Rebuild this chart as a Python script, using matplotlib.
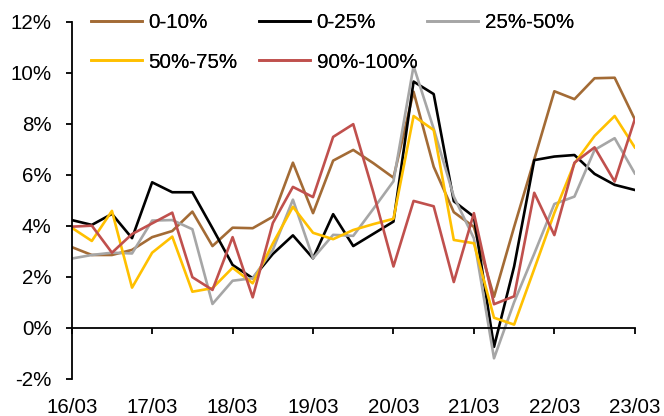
import matplotlib
matplotlib.use("Agg")
import matplotlib.pyplot as plt
import numpy as np

plt.rcParams["font.family"] = ["Liberation Sans", "DejaVu Sans"]

# quarterly observations, 16/03 .. 23/03 (29 quarters)
year_labels = ["16/03", "17/03", "18/03", "19/03", "20/03", "21/03", "22/03", "23/03"]

q0_10 = [3.16, 2.85, 2.85, 3.05, 3.55, 3.79, 4.55, 3.20, 3.92, 3.90,
         4.35, 6.47, 4.49, 6.55, 6.97, 6.45, 5.88, 9.25, 6.31, 4.53,
         3.95, 1.21, 3.95, 6.60, 9.27, 8.96, 9.78, 9.80, 8.17]
q0_25 = [4.22, 4.03, 4.46, 3.51, 5.70, 5.31, 5.31, 3.90, 2.46, 1.94,
         2.89, 3.62, 2.72, 4.45, 3.20, 3.68, 4.16, 9.65, 9.16, 4.96,
         4.35, -0.75, 2.40, 6.57, 6.71, 6.77, 6.03, 5.60, 5.40]
q25_50 = [2.71, 2.85, 2.94, 2.91, 4.20, 4.22, 3.86, 0.93, 1.84, 1.94,
          3.05, 5.02, 2.72, 3.64, 3.60, 4.66, 5.74, 10.26, 7.80, 5.14,
          3.50, -1.20, 1.00, 2.90, 4.85, 5.14, 6.97, 7.43, 6.05]
q50_75 = [3.92, 3.40, 4.58, 1.57, 2.94, 3.57, 1.41, 1.55, 2.35, 1.74,
          3.30, 4.74, 3.72, 3.47, 3.83, 4.06, 4.27, 8.30, 7.75, 3.44,
          3.31, 0.39, 0.12, 2.30, 4.50, 6.44, 7.52, 8.30, 7.07]
q90_100 = [3.96, 4.00, 2.94, 3.67, 4.09, 4.51, 1.98, 1.48, 3.55, 1.19,
           4.10, 5.52, 5.12, 7.48, 7.98, 5.30, 2.40, 4.97, 4.76, 1.79,
           4.49, 0.92, 1.23, 5.29, 3.63, 6.47, 7.07, 5.73, 8.17]

x = np.arange(len(q0_10))

fig = plt.figure(figsize=(6.64, 4.16), dpi=100)
ax = fig.add_axes([0.108, 0.0897, 0.848, 0.8583])

lw = 1.9
h_b, = ax.plot(x, q0_10, color="#A36B35", lw=lw, label="0-10%")
h_k, = ax.plot(x, q0_25, color="#000000", lw=lw, label="0-25%")
h_g, = ax.plot(x, q25_50, color="#A6A6A6", lw=lw, label="25%-50%")
h_y, = ax.plot(x, q50_75, color="#FFC000", lw=lw, label="50%-75%")
h_r, = ax.plot(x, q90_100, color="#C0504D", lw=lw, label="90%-100%")

ax.set_xlim(0, 28)
ax.set_ylim(-2, 12)
ax.set_yticks(np.arange(-2, 13, 2))
ax.set_yticklabels([f"{v}%" for v in range(-2, 13, 2)])
ax.set_xticks(np.arange(0, 29, 4))

for s in ("top", "right"):
    ax.spines[s].set_visible(False)
ax.spines["bottom"].set_position(("data", 0))
ax.spines["left"].set_linewidth(1.3)
ax.spines["bottom"].set_linewidth(1.3)
ax.tick_params(axis="y", direction="out", length=4.5, width=1.3, pad=10, labelsize=14.8)
ax.tick_params(axis="x", direction="out", length=4.5, width=1.3, labelbottom=False)

sec = ax.secondary_xaxis("bottom")
sec.set_xticks(np.arange(0, 29, 4))
sec.set_xticklabels(year_labels)
sec.tick_params(length=0, pad=14, labelsize=14.8)
sec.spines["bottom"].set_visible(False)

# legend laid out as fixed-width columns, like the original
columns = [[h_b, h_y], [h_k, h_r], [h_g]]
col_x = [0.137, 0.390, 0.643]
for hs, cx in zip(columns, col_x):
    leg = fig.legend(handles=hs, labels=[h.get_label() for h in hs],
                     loc="upper left", bbox_to_anchor=(cx, 0.968), frameon=False,
                     fontsize=14.8, handlelength=2.5, handletextpad=0.3,
                     labelspacing=0.99, borderpad=0, borderaxespad=0)
    fig.add_artist(leg)

fig.savefig("out.png", dpi=100)
